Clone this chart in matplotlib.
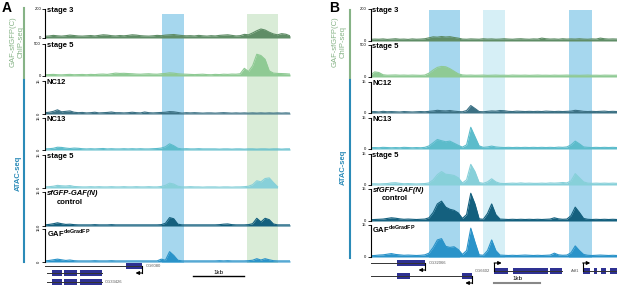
"""Genome browser style tracks: GAF ChIP-seq and ATAC-seq, panels A and B"""

import numpy as np
import matplotlib.pyplot as plt

plt.rcParams['font.family'] = ['Liberation Sans', 'DejaVu Sans']
plt.rcParams['mathtext.fontset'] = 'custom'
plt.rcParams['mathtext.rm'] = 'Liberation Sans'
plt.rcParams['mathtext.bf'] = 'Liberation Sans:bold'

W, H = 617, 287

# ---- tracks -------------------------------------------------------------
track_names = ["stage 3", "stage 5", "NC12", "NC13", "stage 5", "sfGFP-GAF(N)", "GAF"]
track_max = [200, 500, 15, 15, 15, 15, 15]
track_colors = ["#5f8d66", "#8fca94", "#3c7184", "#5cbccb",
                "#87d0d9", "#14607e", "#2a93c9"]

# panel A signals (60 bins)
a_chip_st3 = [12, 14, 18, 15, 13, 16, 20, 17, 14, 13,
              15, 17, 14, 18, 22, 20, 16, 14, 17, 15,
              18, 22, 20, 16, 14, 13, 15, 18, 16, 20,
              22, 24, 20, 17, 15, 16, 14, 18, 15, 13,
              16, 14, 18, 20, 22, 18, 14, 16, 25, 22,
              35, 50, 62, 55, 40, 28, 22, 30, 26, 15]
a_chip_st5 = [20, 22, 25, 20, 18, 22, 25, 20, 22, 24,
              20, 25, 22, 28, 30, 25, 35, 45, 40, 42,
              38, 35, 30, 28, 32, 35, 30, 28, 35, 40,
              50, 45, 35, 30, 28, 25, 22, 25, 28, 22,
              20, 25, 22, 28, 25, 30, 28, 35, 120, 70,
              160, 340, 320, 260, 80, 45, 40, 38, 35, 30]
a_nc12 = [0.6, 0.8, 1.2, 1.9, 1.0, 1.2, 1.4, 0.8, 0.6, 0.7,
          0.5, 0.6, 0.8, 0.5, 0.6, 0.7, 0.9, 0.6, 0.6, 0.5,
          0.6, 0.8, 0.6, 0.5, 0.9, 0.6, 0.5, 0.6, 0.7, 0.8,
          1.1, 1.0, 0.7, 0.4, 0.6, 0.5, 0.6, 0.5, 0.4, 0.5,
          0.5, 0.4, 0.5, 0.6, 0.5, 0.4, 0.5, 0.4, 0.5, 0.4,
          0.5, 0.4, 0.5, 0.4, 0.5, 0.4, 0.5, 0.4, 0.5, 0.4]
a_nc13 = [0.5, 0.6, 0.8, 1.3, 1.2, 0.9, 0.7, 0.9, 0.8, 0.6,
          0.5, 0.6, 0.5, 0.6, 0.7, 0.5, 0.6, 0.5, 0.5, 0.6,
          0.5, 0.6, 0.5, 0.6, 0.5, 0.5, 0.6, 0.7, 0.9, 1.5,
          2.9, 2.0, 0.8, 0.5, 0.6, 0.5, 0.5, 0.6, 0.5, 0.5,
          0.5, 0.5, 0.4, 0.5, 0.5, 0.4, 0.5, 0.5, 0.4, 0.5,
          0.5, 0.4, 0.5, 0.5, 0.4, 0.5, 0.5, 0.4, 0.5, 0.5]
a_atac5 = [0.5, 0.6, 0.8, 1.2, 1.0, 0.9, 1.1, 0.7, 0.6, 0.5,
           0.5, 0.6, 0.5, 0.6, 0.5, 0.5, 0.6, 0.5, 0.5, 0.6,
           0.5, 0.5, 0.6, 0.5, 0.5, 0.6, 0.5, 0.5, 0.7, 1.2,
           2.2, 1.8, 0.8, 0.5, 0.5, 0.6, 0.5, 0.5, 0.4, 0.5,
           0.5, 0.5, 0.4, 0.5, 0.5, 0.4, 0.5, 0.5, 0.6, 0.8,
           1.5, 3.3, 2.8, 4.3, 4.6, 2.5, 0.6, np.nan, np.nan, np.nan]
a_sfgfp = [0.5, 0.7, 1.0, 1.4, 1.0, 0.7, 0.8, 0.6, 0.5, 0.5,
           0.5, 0.5, 0.6, 0.5, 0.5, 0.5, 0.6, 0.5, 0.5, 0.5,
           0.5, 0.5, 0.5, 0.5, 0.5, 0.5, 0.5, 0.5, 0.6, 1.2,
           3.7, 3.2, 0.8, 0.5, 0.5, 0.5, 0.5, 0.5, 0.5, 0.5,
           0.5, 0.5, 0.6, 0.8, 0.9, 0.6, 0.5, 0.5, 0.5, 0.6,
           1.0, 3.4, 1.8, 3.4, 2.8, 0.9, 0.5, 0.5, 0.5, 0.5]
a_gaf = [0.5, 0.7, 1.0, 1.3, 1.0, 0.7, 0.9, 0.6, 0.5, 0.5,
         0.5, 0.5, 0.6, 0.5, 0.5, 0.5, 0.6, 0.5, 0.5, 0.5,
         0.5, 0.5, 0.5, 0.5, 0.5, 0.5, 0.5, 0.5, 1.3, 0.8,
         4.7, 3.0, 0.8, 0.5, 0.5, 0.5, 0.5, 0.5, 0.5, 0.5,
         0.5, 0.5, 0.6, 0.5, 0.6, 0.5, 0.5, 0.5, 0.5, 0.6,
         0.8, 1.5, 0.9, 1.5, 1.0, 0.6, 0.5, 0.5, 0.5, 0.5]

# panel B signals (60 bins)
b_chip_st3 = [10, 12, 11, 13, 10, 12, 14, 11, 12, 10,
              13, 11, 12, 14, 20, 26, 24, 28, 25, 27, 22, 18, 12, 11,
              13, 12, 11, 14, 12, 13, 11, 12, 14, 12, 11, 13, 14, 12, 11, 13,
              12, 18, 14, 12, 13, 11, 14, 12, 13, 12, 14, 12, 11, 13, 12, 18, 14, 12, 13, 12]
b_chip_st5 = [30, 80, 70, 35, 28, 30, 32, 28, 30, 27,
              30, 28, 26, 30, 60, 110, 150, 165, 160, 130, 90, 50, 32, 28,
              30, 27, 28, 30, 26, 28, 30, 27, 28, 26, 30, 28, 27, 29, 26, 28,
              30, 27, 28, 26, 29, 27, 28, 30, 27, 28, 26, 28, 30, 27, 28, 26, 29, 28, 27, 28]
b_nc12 = [0.6, 0.7, 0.5, 0.8, 0.6, 0.7, 0.6, 0.5, 0.7, 0.6,
          0.5, 0.6, 0.7, 0.6, 0.8, 1.0, 1.3, 1.1, 1.0, 1.2, 0.9, 0.7, 0.6, 1.2,
          3.6, 2.2, 0.7, 0.6, 0.8, 1.0, 0.9, 1.2, 1.1, 0.8, 0.7, 0.9, 0.8, 0.7, 0.8, 0.7,
          0.8, 0.7, 0.9, 0.8, 0.7, 0.8, 0.7, 0.8, 0.9, 1.3, 1.1, 0.8, 0.7, 0.8, 0.7, 0.8, 0.9, 0.7, 0.8, 0.7]
b_nc13 = [0.6, 0.7, 0.6, 0.8, 0.7, 0.6, 0.7, 0.6, 0.8, 0.7,
          0.6, 0.7, 0.6, 0.8, 1.5, 3.0, 4.6, 4.0, 3.5, 3.8, 2.8, 1.8, 0.9, 2.0,
          10.5, 6.0, 1.5, 0.8, 1.0, 1.4, 1.0, 0.8, 0.7, 0.8, 0.7, 0.8, 0.7, 0.8, 0.7, 0.8,
          0.7, 0.8, 0.7, 0.8, 0.7, 0.9, 0.8, 1.0, 2.0, 3.8, 2.5, 1.0, 0.8, 0.7, 0.8, 0.7, 0.8, 0.7, 0.8, 0.7]
b_atac5 = [0.5, 0.6, 0.5, 0.6, 0.7, 1.0, 1.1, 0.8, 0.6, 0.7,
           0.6, 0.5, 0.6, 0.7, 1.0, 2.5, 5.0, 6.5, 5.2, 5.0, 4.6, 3.5, 1.0, 2.5,
           10.0, 6.5, 1.2, 0.8, 1.5, 3.0, 1.5, 0.8, 0.7, 0.8, 0.9, 0.8, 1.0, 0.8, 0.9, 0.8,
           0.8, 0.9, 0.8, 1.0, 0.9, 1.0, 1.2, 1.0, 2.0, 5.5, 3.5, 1.5, 0.9, 0.8, 0.9, 0.8, 0.9, 0.8, 0.9, 0.8]
b_sfgfp = [0.6, 0.7, 0.8, 0.9, 1.2, 1.5, 1.3, 1.0, 0.8, 0.9,
           0.8, 0.7, 0.8, 0.9, 1.5, 4.0, 8.0, 9.3, 6.5, 5.5, 5.0, 3.8, 1.2, 3.0,
           13.0, 8.0, 1.0, 0.8, 3.5, 8.0, 3.0, 0.9, 0.8, 0.7, 0.8, 0.7, 0.8, 0.7, 0.8, 0.7,
           0.8, 0.7, 0.8, 0.9, 1.5, 1.0, 0.8, 0.9, 2.5, 6.5, 4.0, 1.2, 0.8, 0.7, 0.8, 0.7, 0.8, 0.7, 0.8, 0.7]
b_gaf = [0.6, 0.7, 0.9, 1.0, 1.3, 1.6, 1.2, 1.0, 0.8, 0.9,
         0.8, 0.7, 0.8, 1.0, 1.8, 4.5, 8.0, 8.6, 5.0, 4.5, 4.8, 3.5, 1.2, 3.0,
         13.5, 7.0, 1.0, 0.8, 3.0, 8.0, 3.0, 0.9, 0.8, 0.7, 0.8, 0.7, 0.8, 0.9, 0.8, 0.7,
         0.8, 0.7, 0.8, 0.9, 1.8, 1.0, 0.8, 0.9, 2.0, 5.2, 3.0, 1.2, 0.8, 0.7, 0.8, 0.9, 0.8, 0.7, 0.8, 0.7]

# highlighted regions (bins)
a_spans = [(28.2, 33.5, "#a6d7ee"), (48.6, 56.1, "#d9ecd7")]
b_spans = [(14.1, 21.5, "#a6d7ee"), (27.0, 32.2, "#d6eff6"), (47.5, 53.0, "#a6d7ee")]

# gene models: (label, row, line start, line end, exons, tss, tss direction, label side)
a_genes = [
    ("CG6080", 266, 0.0, 23.4, [(19.5, 23.4)], 23.4, "left", "right"),
    ("", 273, 0.4, 13.7, [(1.7, 4.1), (4.6, 7.7), (8.4, 13.7)], None, None, None),
    ("CG33426", 282, 0.4, 13.7, [(1.7, 4.1), (4.6, 7.7), (8.4, 13.7)], None, None, "right"),
]
b_genes = [
    ("CG32066", 263, 0.2, 13.1, [(6.4, 13.1)], 13.1, "left", "right"),
    ("", 276, 0.2, 24.3, [(6.4, 9.5), (22.0, 24.3)], 24.3, "left", None),
    ("CG6602", 271, 29.6, 45.8, [(29.6, 33.0), (34.1, 42.5), (43.0, 45.8)], 29.6, "right", "left"),
    ("Adf1", 271, 50.8, 59.0, [(50.8, 52.5), (53.5, 54.1), (55.1, 56.3), (57.3, 59.0)],
     50.8, "right", "left"),
]
a_scalebar = (35.6, 47.9)
b_scalebar = (29.6, 40.6)

GREEN_LABEL = "#86b386"
BLUE_LABEL = "#2b8bb8"
GENE = "#2e3192"


def add_ax(fig, x0, y0, x1, y1):
    """Axes placed in pixel coordinates (origin top-left)"""
    return fig.add_axes([x0 / W, 1 - y1 / H, (x1 - x0) / W, (y1 - y0) / H])


def draw_panel(fig, x0, x1, tracks, hl_y, gene_y, signals, spans, genes,
               scalebar, bar_color, rotate_ticks):
    n = len(signals[0])

    bg = add_ax(fig, x0, hl_y[0], x1, hl_y[1])
    bg.set_xlim(0, n - 1)
    bg.axis('off')
    for lo, hi, c in spans:
        bg.axvspan(lo, hi, color=c, lw=0)

    for k, (top, base) in enumerate(tracks):
        ax = add_ax(fig, x0, top, x1, base)
        ax.set_facecolor('none')
        vals = np.array(signals[k], dtype=float)
        pos = np.arange(n)
        ax.fill_between(pos, 0, vals, color=track_colors[k], lw=0)
        ax.plot(pos, vals, color=track_colors[k], lw=0.8)
        ax.set_xlim(0, n - 1)
        ax.set_ylim(0, track_max[k])
        for s in ['top', 'right', 'bottom']:
            ax.spines[s].set_visible(False)
        ax.spines['left'].set_linewidth(0.8)
        ax.set_xticks([])
        ax.set_yticks([0, track_max[k]])
        rot = 90 if (rotate_ticks and k >= 2) else 0
        ax.set_yticklabels(["0", str(track_max[k])], fontsize=3, rotation=rot,
                           va='center')
        ax.tick_params(axis='y', length=2, width=0.6, pad=0.8)

        name = track_names[k]
        if k == 5:
            ax.text(0.008, 1.06, name, transform=ax.transAxes, va='top', ha='left',
                    fontsize=5.5, fontweight='bold', style='italic')
            ax.text(0.10, 0.80, "control", transform=ax.transAxes, va='top',
                    ha='center', fontsize=5.5, fontweight='bold')
        elif k == 6:
            ax.text(0.008, 1.06, r"$\mathbf{GAF}^{\mathbf{deGradFP}}$",
                    transform=ax.transAxes, va='top', ha='left', fontsize=5.5)
        else:
            ax.text(0.008, 1.06, name, transform=ax.transAxes, va='top', ha='left',
                    fontsize=5.5, fontweight='bold')

    gax = add_ax(fig, x0, gene_y[0], x1, gene_y[1])
    gax.set_xlim(0, n - 1)
    gax.set_ylim(gene_y[1], gene_y[0])
    gax.axis('off')
    for label, row, start, end, exons, tss, tss_dir, side in genes:
        gax.plot([start, end], [row, row], color='#333333', lw=0.7, clip_on=False)
        for e0, e1 in exons:
            gax.add_patch(plt.Rectangle((e0, row - 2.7), e1 - e0, 5.4,
                                        color=GENE, lw=0, clip_on=False))
        if tss is not None:
            dy = 7 if tss_dir == "left" else -8
            dx = -1.6 if tss_dir == "left" else 1.8
            gax.plot([tss, tss], [row, row + dy], color='black', lw=0.8, clip_on=False)
            gax.annotate('', xy=(tss + dx, row + dy), xytext=(tss, row + dy),
                         arrowprops=dict(arrowstyle='-|>', lw=0.8, color='black',
                                         mutation_scale=5, shrinkA=0, shrinkB=0),
                         annotation_clip=False)
        if side == "right":
            gax.text(end + 0.8, row, label, fontsize=3, color='#555555',
                     va='center', ha='left', clip_on=False)
        elif side == "left":
            gax.text(start - 0.9, row, label, fontsize=3, color='#555555',
                     va='center', ha='right', clip_on=False)

    return gax


fig = plt.figure(figsize=(W / 100, H / 100), dpi=100)

a_tracks = [(9, 38), (44, 76), (81, 114), (118, 150), (155, 188), (192, 226), (229, 262)]
b_tracks = [(9, 41), (45, 77), (82, 113), (118, 149), (154, 185), (189, 221), (225, 257)]

gax_a = draw_panel(fig, 45, 290, a_tracks, (14, 263), (258, 287),
                   [a_chip_st3, a_chip_st5, a_nc12, a_nc13, a_atac5, a_sfgfp, a_gaf],
                   a_spans, a_genes, a_scalebar, 'black', True)
gax_a.plot(a_scalebar, [276, 276], color='black', lw=1.0, clip_on=False)
gax_a.text(sum(a_scalebar) / 2, 274.5, "1kb", fontsize=4.5, ha='center', va='bottom')

gax_b = draw_panel(fig, 370.5, 617, b_tracks, (10, 258), (255, 287),
                   [b_chip_st3, b_chip_st5, b_nc12, b_nc13, b_atac5, b_sfgfp, b_gaf],
                   b_spans, b_genes, b_scalebar, '#888888', False)
gax_b.plot(b_scalebar, [283, 283], color='#888888', lw=1.5, clip_on=False)
gax_b.text(sum(b_scalebar) / 2, 281, "1kb", fontsize=4.5, ha='center', va='bottom')

# left side labels
for lx, tx_chip, tx_atac, atac_y, top_green, bot_blue in [(24, 17, 18.5, 173, 8, 262),
                                                          (350, 339, 343, 167, 10, 258)]:
    fig.add_artist(plt.Line2D([lx / W, lx / W], [1 - top_green / H, 1 - 78 / H],
                              color=GREEN_LABEL, lw=1.5))
    fig.add_artist(plt.Line2D([lx / W, lx / W], [1 - 80 / H, 1 - bot_blue / H],
                              color=BLUE_LABEL, lw=1.5))
    fig.text(tx_chip / W, 1 - 42 / H, "GAF-sfGFP(C)\nChIP-seq", rotation=90,
             color=GREEN_LABEL, fontsize=5.5, ha='center', va='center',
             multialignment='center', linespacing=1.1)
    fig.text(tx_atac / W, 1 - atac_y / H, "ATAC-seq", rotation=90, color=BLUE_LABEL,
             fontsize=5.5, fontweight='bold', ha='center', va='center')

fig.text(2 / W, 1 - 1 / H, "A", fontsize=10, fontweight='bold', va='top', ha='left')
fig.text(329 / W, 1 - 1 / H, "B", fontsize=10, fontweight='bold', va='top', ha='left')

fig.savefig("out.png", dpi=100)
